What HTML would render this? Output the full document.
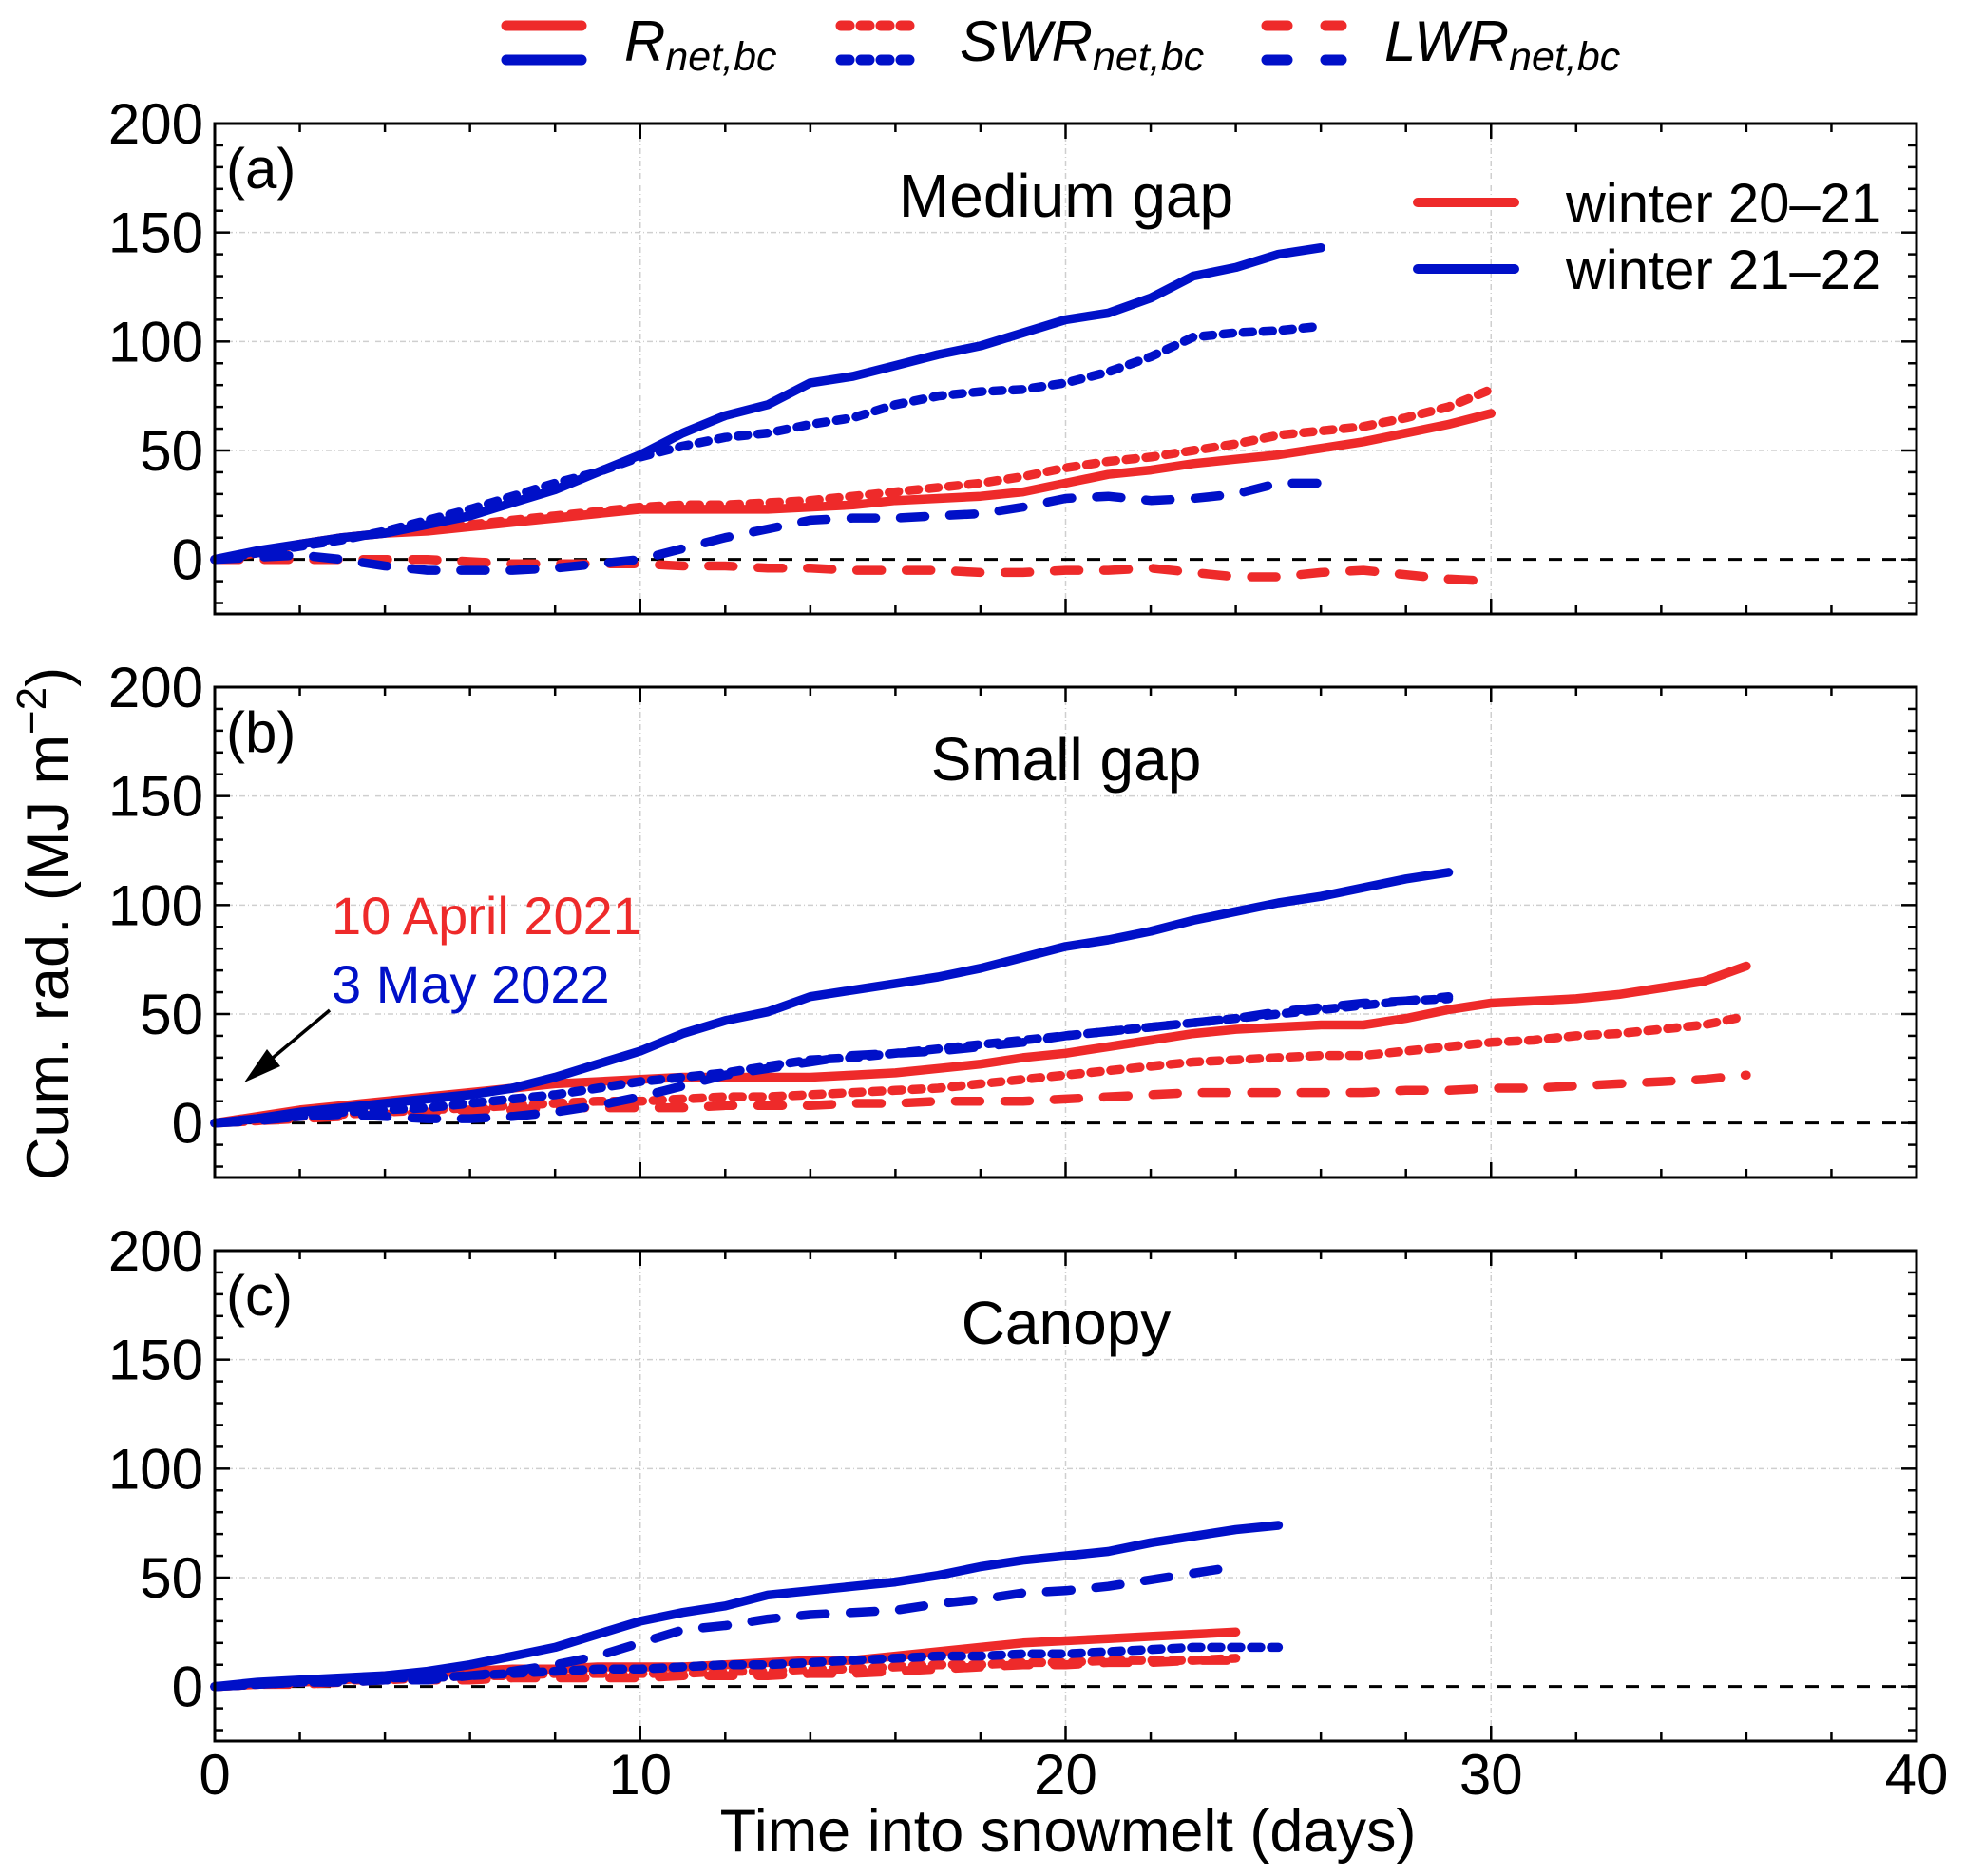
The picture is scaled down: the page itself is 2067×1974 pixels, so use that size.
<!DOCTYPE html>
<html><head><meta charset="utf-8">
<style>
html,body{margin:0;padding:0;background:#fff;}
svg{display:block;font-family:"Liberation Sans",sans-serif;}
</style></head>
<body>
<svg id="chart" width="2067" height="1974" viewBox="0 0 2067 1974">
  <g id="topLegend">
    <g>
      <line x1="533" y1="27" x2="612" y2="27" stroke="#ee2a2a" stroke-width="11" stroke-linecap="round"/>
      <line x1="533" y1="63" x2="612" y2="63" stroke="#0010c8" stroke-width="11" stroke-linecap="round"/>
      <text x="657" y="64" font-size="60" font-style="italic">R<tspan font-size="43" dy="10">net,bc</tspan></text>
    </g>
    <g>
      <line x1="885" y1="27" x2="966" y2="27" stroke="#ee2a2a" stroke-width="11" stroke-dasharray="9,12" stroke-linecap="round"/>
      <line x1="885" y1="63" x2="966" y2="63" stroke="#0010c8" stroke-width="11" stroke-dasharray="9,12" stroke-linecap="round"/>
      <text x="1010" y="64" font-size="60" font-style="italic">SWR<tspan font-size="43" dy="10">net,bc</tspan></text>
    </g>
    <g>
      <line x1="1333" y1="27" x2="1412" y2="27" stroke="#ee2a2a" stroke-width="11" stroke-dasharray="22,40" stroke-linecap="round"/>
      <line x1="1333" y1="63" x2="1412" y2="63" stroke="#0010c8" stroke-width="11" stroke-dasharray="22,40" stroke-linecap="round"/>
      <text x="1457" y="64" font-size="60" font-style="italic">LWR<tspan font-size="43" dy="10">net,bc</tspan></text>
    </g>
  </g>
  <g id="panels"></g>
  <text x="72" y="972" font-size="63" text-anchor="middle" transform="rotate(-90 72 972)">Cum. rad. (MJ m<tspan font-size="44" dy="-24">−2</tspan><tspan dy="24">)</tspan></text>
  <text x="1124" y="1948" font-size="63" text-anchor="middle">Time into snowmelt (days)</text>
</svg>
<script>
// ---- data ----
const xTicks = [0, 10, 20, 30, 40];
const yTicks = [0, 50, 100, 150, 200];
const panelLabels = ["(a)", "(b)", "(c)"];
const panelTitles = ["Medium gap", "Small gap", "Canopy"];
// Panel (a) Medium gap
const aRedR   = [0,3,7,10,12,13,15,17,19,21,23,23,23,23,24,25,27,28,29,31,35,39,41,44,46,48,51,54,58,62,67];
const aRedSW  = [0,3,7,10,12,14,16,18,20,22,24,25,25,26,27,29,31,33,35,38,42,45,47,50,53,57,59,61,65,70,78];
const aRedLW  = [0,0,0,0,0,0,-1,-2,-2,-2,-2,-3,-3,-4,-4,-5,-5,-5,-6,-6,-5,-5,-4,-6,-8,-8,-6,-5,-7,-9,-10];
const aBlueR  = [0,4,7,10,12,16,20,26,32,40,48,58,66,71,81,84,89,94,98,104,110,113,120,130,134,140,143];
const aBlueSW = [0,3,6,9,13,18,23,29,35,40,47,52,56,58,62,65,71,75,77,78,81,86,93,102,104,105,107];
const aBlueLW = [0,1,2,0,-3,-5,-5,-5,-4,-2,0,5,10,14,18,19,19,20,21,24,28,29,27,28,30,35,35];
// Panel (b) Small gap
const bRedR   = [0,3,6,8,10,12,14,16,18,19,20,21,21,21,21,22,23,25,27,30,32,35,38,41,43,44,45,45,48,52,55,56,57,59,62,65,72];
const bRedSW  = [0,1,3,4,5,6,7,8,9,10,10,11,12,12,13,14,15,16,18,20,22,24,26,28,29,30,31,31,33,35,37,38,40,41,43,45,49];
const bRedLW  = [0,1,2,3,4,5,6,6,7,7,7,7,8,8,8,9,9,10,10,10,11,12,13,14,14,14,14,14,15,15,16,16,17,18,19,20,22];
const bBlueR  = [0,2,5,7,9,11,13,16,21,27,33,41,47,51,58,61,64,67,71,76,81,84,88,93,97,101,104,108,112,115];
const bBlueSW = [0,2,3,5,6,7,9,11,13,16,19,21,23,26,29,30,32,34,36,38,40,42,44,46,48,50,52,54,56,57];
const bBlueLW = [0,1,3,4,3,2,2,3,5,8,12,17,22,25,28,31,32,33,35,37,40,42,44,46,48,51,53,55,56,58];
// Panel (c) Canopy
const cRedR   = [0,1,2,3,5,6,7,8,8,9,9,9,10,11,12,12,14,16,18,20,21,22,23,24,25];
const cRedSW  = [0,1,2,3,3,4,5,5,6,6,6,6,7,7,8,8,9,10,10,11,11,12,12,12,13];
const cRedLW  = [0,1,1,2,3,3,3,4,4,4,4,5,5,5,6,6,7,8,9,10,10,11,11,12,12];
const cBlueR  = [0,2,3,4,5,7,10,14,18,24,30,34,37,42,44,46,48,51,55,58,60,62,66,69,72,74];
const cBlueSW = [0,1,2,3,4,4,5,6,7,8,8,9,10,10,11,12,13,14,14,15,15,16,17,18,18,18];
const cBlueLW = [0,1,2,2,3,3,5,7,10,14,20,26,28,31,33,34,35,38,40,43,44,46,49,52,55];

const RED = "#ee2a2a", BLUE = "#0010c8";
const NS = "http://www.w3.org/2000/svg";
const L = 226, R = 2017, PH = 516, tops = [130, 723, 1316];
const YMIN = -25, YMAX = 200;
const xs = d => L + (d / 40) * (R - L);
function mk(tag, attrs, parent) {
  const e = document.createElementNS(NS, tag);
  for (const k in attrs) e.setAttribute(k, attrs[k]);
  parent.appendChild(e);
  return e;
}
const styles = {
  solid: {"stroke-width": 9.5, "stroke-linecap": "round", "stroke-linejoin": "round"},
  dot: {"stroke-width": 9.5, "stroke-dasharray": "10,11", "stroke-linecap": "round", "stroke-linejoin": "round"},
  dash: {"stroke-width": 9.5, "stroke-dasharray": "26,26", "stroke-linecap": "round", "stroke-linejoin": "round"}
};
const panelData = [
  [[aRedR,RED,"solid","red-rnet"],[aRedSW,RED,"dot","red-swr"],[aRedLW,RED,"dash","red-lwr"],[aBlueR,BLUE,"solid","blue-rnet"],[aBlueSW,BLUE,"dot","blue-swr"],[aBlueLW,BLUE,"dash","blue-lwr"]],
  [[bRedR,RED,"solid","red-rnet"],[bRedSW,RED,"dot","red-swr"],[bRedLW,RED,"dash","red-lwr"],[bBlueR,BLUE,"solid","blue-rnet"],[bBlueSW,BLUE,"dot","blue-swr"],[bBlueLW,BLUE,"dash","blue-lwr"]],
  [[cRedR,RED,"solid","red-rnet"],[cRedSW,RED,"dot","red-swr"],[cRedLW,RED,"dash","red-lwr"],[cBlueR,BLUE,"solid","blue-rnet"],[cBlueSW,BLUE,"dot","blue-swr"],[cBlueLW,BLUE,"dash","blue-lwr"]]
];
const root = document.getElementById("panels");
tops.forEach((T, p) => {
  const B = T + PH;
  const ys = v => B - (v - YMIN) / (YMAX - YMIN) * PH;
  const g = mk("g", {}, root);
  
  
  xTicks.slice(1, -1).forEach(t => {
    const gl = mk("line", {x1: xs(t), x2: xs(t), y1: T, y2: B, stroke: "#cfcfcf", "stroke-width": 1.5, "stroke-dasharray": "6,3,1,3"}, g);
    
    
  });
  yTicks.slice(1, -1).forEach(t => {
    const gl = mk("line", {x1: L, x2: R, y1: ys(t), y2: ys(t), stroke: "#cfcfcf", "stroke-width": 1.5, "stroke-dasharray": "6,3,1,3"}, g);
    
    
  });
  const z = mk("line", {x1: L, x2: R, y1: ys(0), y2: ys(0), stroke: "#000", "stroke-width": 3, "stroke-dasharray": "14,13"}, g);
  
  
  for (let d = 0; d <= 40; d += 2) {
    const len = d % 10 === 0 ? 16 : 9;
    mk("line", {x1: xs(d), x2: xs(d), y1: B, y2: B - len, stroke: "#000", "stroke-width": 2.5}, g);
    mk("line", {x1: xs(d), x2: xs(d), y1: T, y2: T + len, stroke: "#000", "stroke-width": 2.5}, g);
  }
  for (let v = -20; v <= 200; v += 10) {
    const len = v % 50 === 0 ? 16 : 9;
    mk("line", {x1: L, x2: L + len, y1: ys(v), y2: ys(v), stroke: "#000", "stroke-width": 2.5}, g);
    mk("line", {x1: R, x2: R - len, y1: ys(v), y2: ys(v), stroke: "#000", "stroke-width": 2.5}, g);
  }
  yTicks.forEach(t => {
    const tl = mk("text", {x: L - 12, y: ys(t) + 21, "font-size": 60, "text-anchor": "end"}, g);
    tl.textContent = t;
    
    
  });
  panelData[p].forEach(([arr, col, st, nm]) => {
    const pts = arr.map((v, i) => xs(i).toFixed(1) + "," + ys(v).toFixed(1)).join(" ");
    const pl = mk("polyline", Object.assign({points: pts, fill: "none", stroke: col}, styles[st]), g);
    
    
  });
  const fr = mk("rect", {x: L, y: T, width: R - L, height: PH, fill: "none", stroke: "#000", "stroke-width": 3}, g);
  
  
  const lab = mk("text", {x: 238, y: T + 68, "font-size": 60}, g);
  lab.textContent = panelLabels[p];
  
  
  const ti = mk("text", {x: 1122, y: T + 98, "font-size": 64, "text-anchor": "middle"}, g);
  ti.textContent = panelTitles[p];
  
  
});
const svg = document.getElementById("chart");
xTicks.forEach(t => {
  const tl = mk("text", {x: xs(t), y: 1888, "font-size": 60, "text-anchor": "middle"}, svg);
  tl.textContent = t;
  
  
});
const lg = mk("g", {}, svg);


[["winter 20–21", RED, 213], ["winter 21–22", BLUE, 283]].forEach(([t, c, y]) => {
  mk("line", {x1: 1492, x2: 1594, y1: y, y2: y, stroke: c, "stroke-width": 10, "stroke-linecap": "round"}, lg);
  const tx = mk("text", {x: 1648, y: y + 21, "font-size": 58}, lg);
  tx.textContent = t;
  
  
});
const an = mk("g", {}, svg);


const a1 = mk("text", {x: 349, y: 983, "font-size": 56, fill: RED}, an); a1.textContent = "10 April 2021";
const a2 = mk("text", {x: 349, y: 1055, "font-size": 56, fill: BLUE}, an); a2.textContent = "3 May 2022";
mk("line", {x1: 347, y1: 1063, x2: 268, y2: 1129, stroke: "#000", "stroke-width": 3.5}, an);
mk("polygon", {points: "257,1139 281,1104 295,1122", fill: "#000"}, an);
</script>
</body></html>
